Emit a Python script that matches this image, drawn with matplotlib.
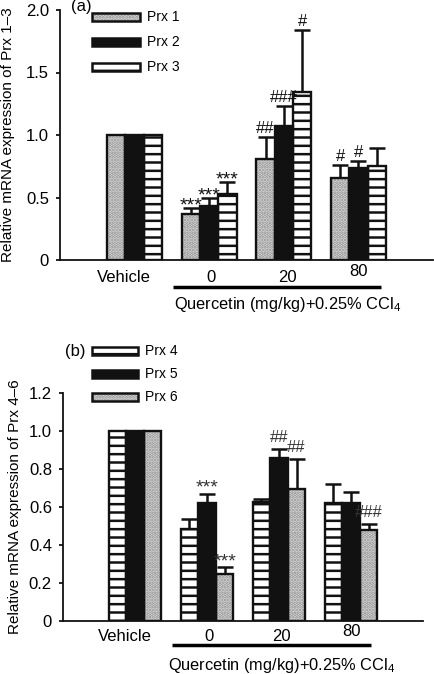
import matplotlib
matplotlib.use('Agg')
import matplotlib.pyplot as plt
from matplotlib.patches import Rectangle
from matplotlib.transforms import blended_transform_factory
import numpy as np

plt.rcParams['font.family'] = ['Liberation Sans', 'DejaVu Sans']
plt.rcParams['mathtext.fontset'] = 'custom'
plt.rcParams['mathtext.rm'] = 'Liberation Sans'
plt.rcParams['hatch.linewidth'] = 1.8

# ---------------- data ----------------
groups = ['Vehicle', '0', '20', '80']
xlabel_text = 'Quercetin (mg/kg)+0.25% CCl$\\mathregular{_4}$'

a_series = ['Prx 1', 'Prx 2', 'Prx 3']
prx1 = [1.0, 0.365, 0.805, 0.66]
prx1_err = [0, 0.055, 0.18, 0.10]
prx2 = [1.0, 0.435, 1.075, 0.74]
prx2_err = [0, 0.065, 0.155, 0.05]
prx3 = [1.0, 0.525, 1.345, 0.755]
prx3_err = [0, 0.10, 0.495, 0.145]
a_ylabel = 'Relative mRNA expression of Prx 1\u20133'
a_yticks = [0, 0.5, 1.0, 1.5, 2.0]
a_yticklabels = ['0', '0.5', '1.0', '1.5', '2.0']
# (text, series index, group index)
a_annot = [('***', 0, 1), ('***', 1, 1), ('***', 2, 1),
           ('##', 0, 2), ('###', 1, 2), ('#', 2, 2),
           ('#', 0, 3), ('#', 1, 3)]

b_series = ['Prx 4', 'Prx 5', 'Prx 6']
prx4 = [1.0, 0.482, 0.625, 0.62]
prx4_err = [0, 0.053, 0.019, 0.10]
prx5 = [1.0, 0.62, 0.856, 0.62]
prx5_err = [0, 0.049, 0.047, 0.057]
prx6 = [1.0, 0.245, 0.693, 0.479]
prx6_err = [0, 0.037, 0.16, 0.031]
b_ylabel = 'Relative mRNA expression of Prx 4\u20136'
b_yticks = [0, 0.2, 0.4, 0.6, 0.8, 1.0, 1.2]
b_yticklabels = ['0', '0.2', '0.4', '0.6', '0.8', '1.0', '1.2']
b_annot = [('***', 1, 1), ('***', 2, 1), ('##', 1, 2), ('##', 2, 2),
           ('###', 2, 3)]

# ---------------- styles ----------------
STYLES = {
    'dots': dict(facecolor='#e2e2e2', hatch='.....', hcolor='#8e8e8e'),
    'solid': dict(facecolor='#111111', hatch=None, hcolor='#111111'),
    'stripes': dict(facecolor='white', hatch='--', hcolor='#111111'),
}

W = 0.245
OFFS = [-W, 0, W]


def draw_panel(ax, series_names, means, errs, styles, ylim, yticks, yticklabels,
               ylabel, ylabel_fs, annots, panel_label, lab_pos, leg_x, leg_ys,
               leg_h, ylabel_x, tick_label_dx, tick_label_y, line_span, line_y,
               xlabel_pos, star_off, hash_off, annot_color):
    x = np.arange(len(groups))
    for i, (m, e, st) in enumerate(zip(means, errs, styles)):
        s = STYLES[st]
        xs = x + OFFS[i]
        ax.bar(xs, m, W, facecolor=s['facecolor'], edgecolor=s['hcolor'],
               hatch=s['hatch'], linewidth=0, zorder=2)
        ax.bar(xs, m, W, fill=False, edgecolor='#111111', linewidth=1.7, zorder=3)
        e = np.array(e, dtype=float)
        mask = e > 0
        ax.errorbar(xs[mask], np.array(m)[mask],
                    yerr=[np.zeros(mask.sum()), e[mask]],
                    fmt='none', ecolor='#111111', elinewidth=1.8,
                    capsize=5.5, capthick=1.8, zorder=1)
    for txt, si, gi in annots:
        top = means[si][gi] + errs[si][gi]
        star = txt.startswith('*')
        ax.annotate(txt, (gi + OFFS[si], top),
                    xytext=(0, star_off if star else hash_off),
                    textcoords='offset points', ha='center', va='baseline',
                    fontsize=14 if star else 12, color=annot_color, zorder=5)

    ax.set_xlim(-1, 4)
    ax.set_ylim(*ylim)
    ax.set_yticks(yticks)
    ax.set_yticklabels(yticklabels, fontsize=12)
    ax.set_xticks([])
    for sp in ['top', 'right']:
        ax.spines[sp].set_visible(False)
    for sp in ['left', 'bottom']:
        ax.spines[sp].set_linewidth(1.3)
        ax.spines[sp].set_color('#111111')
    ax.tick_params(axis='y', length=3, width=1.2, pad=5, direction='out')
    ax.set_ylabel(ylabel, fontsize=ylabel_fs)
    ax.yaxis.set_label_coords(ylabel_x, 0.5)

    tr = blended_transform_factory(ax.transData, ax.transAxes)
    for gi, g in enumerate(groups):
        ax.text(gi + tick_label_dx[gi], tick_label_y[gi], g, transform=tr,
                ha='center', va='center', fontsize=12)
    ax.plot(line_span, [line_y, line_y], transform=tr, color='black',
            linewidth=2.5, clip_on=False, solid_capstyle='butt')
    ax.text(xlabel_pos[0], xlabel_pos[1], xlabel_text, transform=tr,
            ha='center', va='center', fontsize=11.8)

    # legend
    for i, (name, st) in enumerate(zip(series_names, styles)):
        s = STYLES[st]
        y0 = leg_ys[i] - leg_h / 2
        ax.add_patch(Rectangle((leg_x[0], y0), leg_x[1] - leg_x[0], leg_h,
                               transform=ax.transAxes, clip_on=False,
                               facecolor=s['facecolor'], edgecolor=s['hcolor'],
                               hatch=s['hatch'], linewidth=0, zorder=6))
        ax.add_patch(Rectangle((leg_x[0], y0), leg_x[1] - leg_x[0], leg_h,
                               transform=ax.transAxes, clip_on=False,
                               fill=False, edgecolor='#111111', linewidth=1.8,
                               zorder=7))
        ax.text(leg_x[1] + 0.02, leg_ys[i], name, transform=ax.transAxes,
                ha='left', va='center', fontsize=10)
    ax.text(lab_pos[0], lab_pos[1], panel_label, transform=ax.transAxes,
            ha='center', va='center', fontsize=12)


fig = plt.figure(figsize=(4.34, 6.74), dpi=100)
axa = fig.add_axes([60 / 434, 1 - 260 / 674, 373 / 434, 250 / 674])
axb = fig.add_axes([63 / 434, 1 - 621 / 674, 360 / 434, 228 / 674])

draw_panel(axa, a_series, [prx1, prx2, prx3], [prx1_err, prx2_err, prx3_err],
           ['dots', 'solid', 'stripes'], (0, 2.0), a_yticks, a_yticklabels,
           a_ylabel, 11, a_annot, '(a)', (0.058, 1.015),
           (0.086, 0.214), [0.972, 0.872, 0.772], 0.032,
           -0.12, [-0.15, 0.03, 0.05, 0.0], [-0.068, -0.068, -0.068, -0.048],
           (0.52, 3.30), -0.108, (2.05, -0.18), -2, 3, '#111111')

draw_panel(axb, b_series, [prx4, prx5, prx6], [prx4_err, prx5_err, prx6_err],
           ['stripes', 'solid', 'dots'], (0, 1.2), b_yticks, b_yticklabels,
           b_ylabel, 11, b_annot, '(b)', (0.033, 1.184),
           (0.08, 0.208), [1.184, 1.083, 0.982], 0.035,
           -0.114, [-0.14, 0.03, 0.04, 0.01], [-0.066, -0.066, -0.066, -0.048],
           (0.51, 3.28), -0.105, (2.04, -0.193), 1, 5, '#333333')

fig.savefig('out.png', dpi=100)
